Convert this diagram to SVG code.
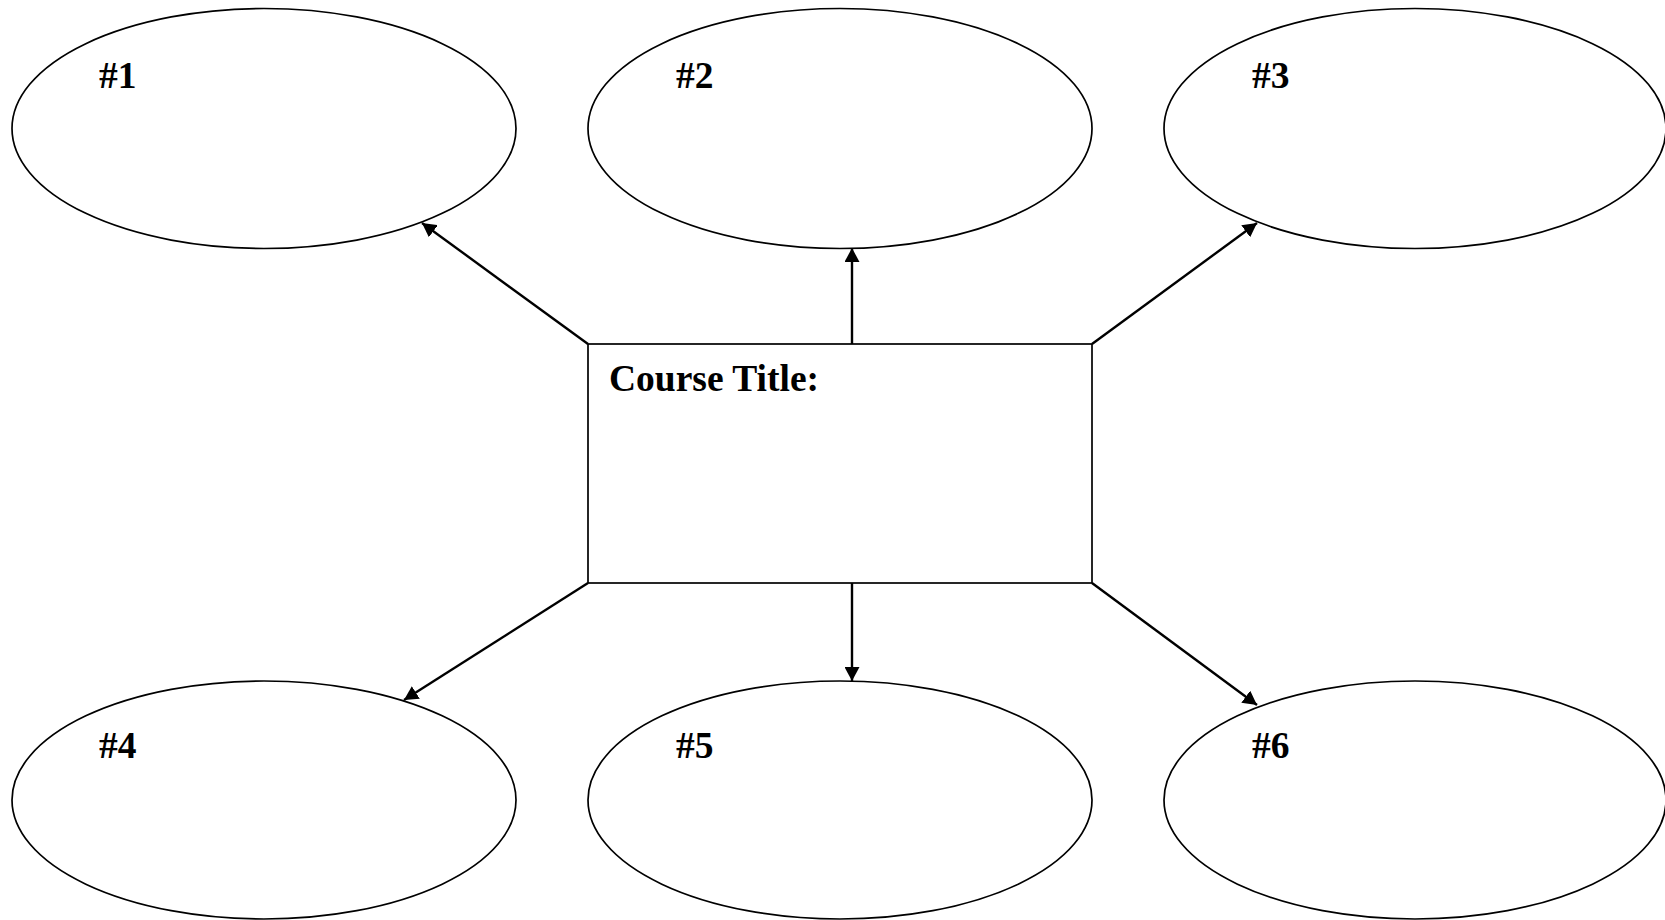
<svg xmlns="http://www.w3.org/2000/svg" width="1665" height="920" viewBox="0 0 1665 920">
<style>
.node{fill:#fff;stroke:#000;stroke-width:1.7}
.lbl{font-family:"Liberation Serif","Times New Roman",serif;font-weight:bold;font-size:37.5px;fill:#000}
.conn{stroke:#000;stroke-width:2.4;fill:none;marker-end:url(#ah)}
</style>
<defs>
<marker id="ah" markerUnits="userSpaceOnUse" viewBox="0 0 14 15" refX="14" refY="7.5" markerWidth="14" markerHeight="15" orient="auto">
<path d="M0,0 L14,7.5 L0,15 Z" fill="#000"/>
</marker>
</defs>
<rect width="1665" height="920" fill="#fff"/>
<g id="n1"><ellipse class="node" cx="264" cy="128.5" rx="252" ry="120"/><text class="lbl" x="99" y="88">#1</text></g>
<g id="n2"><ellipse class="node" cx="840" cy="128.5" rx="252" ry="120"/><text class="lbl" x="676" y="88">#2</text></g>
<g id="n3"><ellipse class="node" cx="1415" cy="128.5" rx="251" ry="120"/><text class="lbl" x="1252" y="88">#3</text></g>
<g id="n4"><ellipse class="node" cx="264" cy="800" rx="252" ry="119"/><text class="lbl" x="99" y="758">#4</text></g>
<g id="n5"><ellipse class="node" cx="840" cy="800" rx="252" ry="119"/><text class="lbl" x="676" y="758">#5</text></g>
<g id="n6"><ellipse class="node" cx="1415" cy="800" rx="251" ry="119"/><text class="lbl" x="1252" y="758">#6</text></g>
<g id="center"><rect class="node" x="588" y="344" width="504" height="239"/><text class="lbl" x="609" y="391">Course Title:</text></g>
<g id="connectors">
<line class="conn" x1="588" y1="344" x2="422" y2="223"/>
<line class="conn" x1="852" y1="344" x2="852" y2="248"/>
<line class="conn" x1="1092" y1="344" x2="1257" y2="223"/>
<line class="conn" x1="588" y1="583" x2="404" y2="700"/>
<line class="conn" x1="852" y1="583" x2="852" y2="681"/>
<line class="conn" x1="1092" y1="583" x2="1257" y2="705"/>
</g>
</svg>
